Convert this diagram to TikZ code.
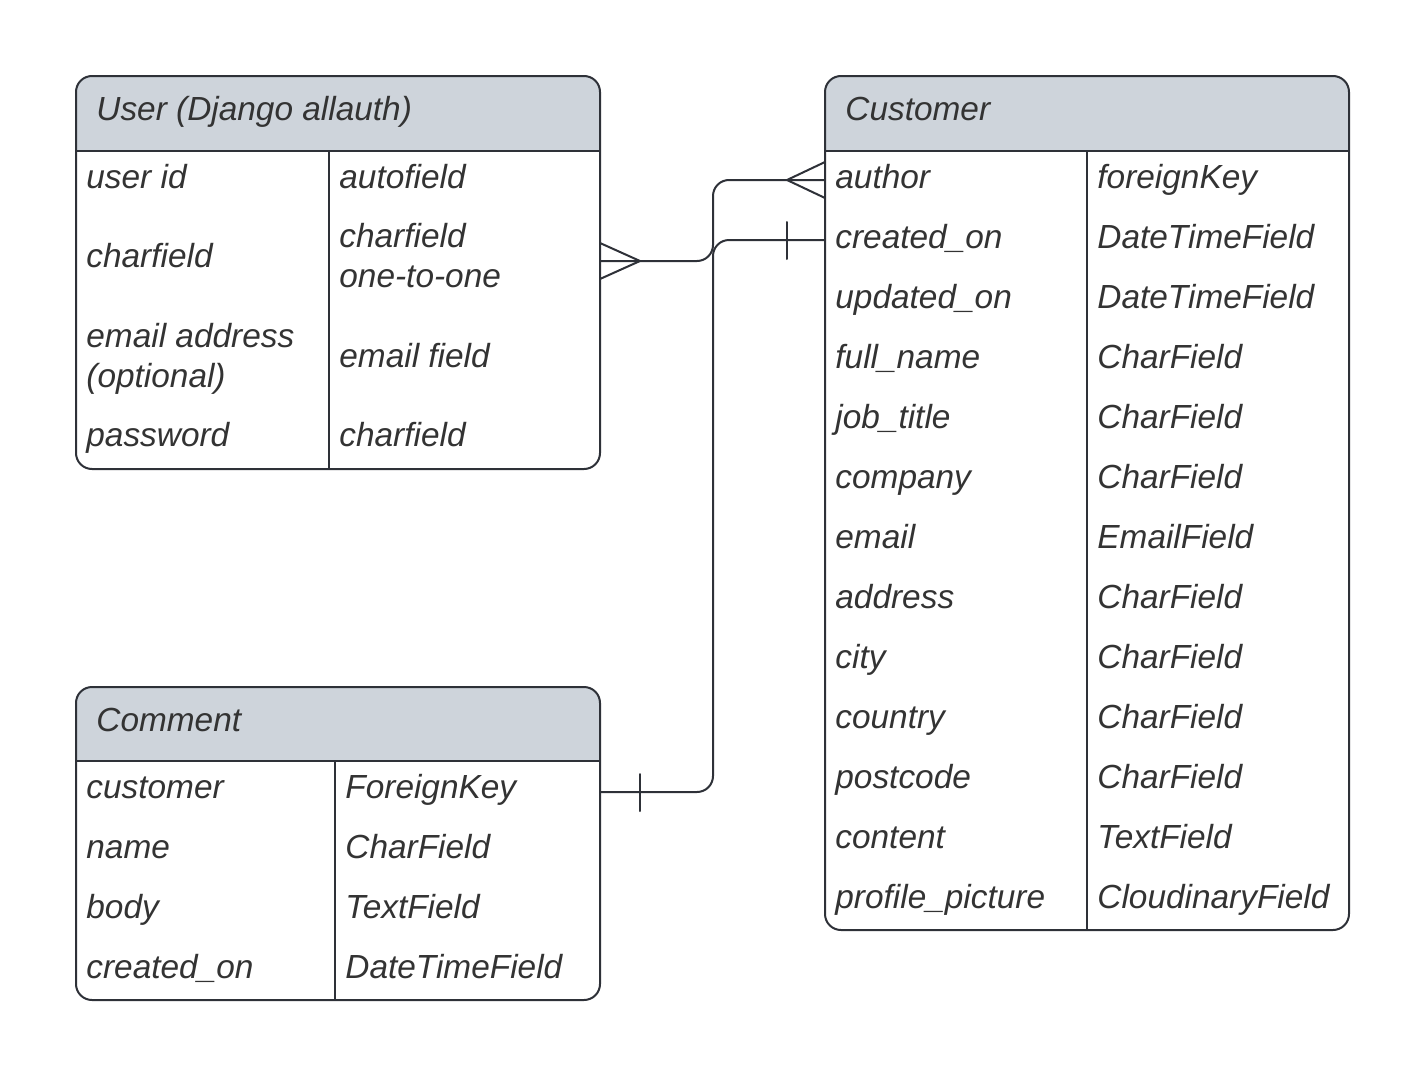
\documentclass[tikz,border=0pt]{standalone}
\usepackage{fontspec}
\setmainfont{Liberation Sans}
\definecolor{hdrfill}{HTML}{CED4DB}
\definecolor{lncol}{HTML}{2E3138}
\definecolor{txtcol}{HTML}{333333}
\tikzset{
  fld/.style={anchor=base west,inner sep=0pt,text=txtcol},
  frame/.style={draw=lncol,line width=1pt,rounded corners=8},
  sep/.style={draw=lncol,line width=0.6pt},
  conn/.style={draw=lncol,line width=1pt,line cap=round,line join=round}
}
\begin{document}
\begin{tikzpicture}[x=0.5pt,y=-0.5pt,font=\fontsize{16.7}{20}\selectfont\itshape]
\useasboundingbox (0,0) rectangle (1425,1076);
% user table
\fill[hdrfill,rounded corners=8] (76,151)--(76,76)--(600,76)[sharp corners]--(600,151)--cycle;
\draw[frame] (76,76) rectangle (600,469);
\draw[frame,rounded corners=0] (76,151)--(600,151);
\draw[sep] (329,151)--(329,469);
\node[fld] (user-title) at (96,120) {User (Django allauth)};
\node[fld] (user-id) at (86,188) {user id};
\node[fld] (user-idtype) at (339,188) {autofield};
\node[fld] (user-name) at (86,267) {charfield};
\node[fld] (user-nametype) at (339,247) {charfield};
\node[fld] (user-nametype2) at (339,287) {one-to-one};
\node[fld] (user-email) at (86,347) {email address};
\node[fld] (user-email2) at (86,387) {(optional)};
\node[fld] (user-emailtype) at (339,367) {email field};
\node[fld] (user-pw) at (86,446) {password};
\node[fld] (user-pwtype) at (339,446) {charfield};
% customer table
\fill[hdrfill,rounded corners=8] (825,151)--(825,76)--(1349,76)[sharp corners]--(1349,151)--cycle;
\draw[frame] (825,76) rectangle (1349,930);
\draw[frame,rounded corners=0] (825,151)--(1349,151);
\draw[sep] (1087,151)--(1087,930);
\node[fld] (cust-title) at (845,120) {Customer};
\foreach \fa/\fb [count=\i from 0] in {author/foreignKey,created\_on/DateTimeField,updated\_on/DateTimeField,
  full\_name/CharField,job\_title/CharField,company/CharField,email/EmailField,address/CharField,
  city/CharField,country/CharField,postcode/CharField,content/TextField,profile\_picture/CloudinaryField}{
  \node[fld] (cust-a\i) at (835,{188+60*\i}) {\fa};
  \node[fld] (cust-b\i) at (1097,{188+60*\i}) {\fb};
}
% comment table
\fill[hdrfill,rounded corners=8] (76,761)--(76,687)--(600,687)[sharp corners]--(600,761)--cycle;
\draw[frame] (76,687) rectangle (600,1000);
\draw[frame,rounded corners=0] (76,761)--(600,761);
\draw[sep] (335,761)--(335,1000);
\node[fld] (com-title) at (96,731) {Comment};
\foreach \fa/\fb [count=\i from 0] in {customer/ForeignKey,name/CharField,body/TextField,created\_on/DateTimeField}{
  \node[fld] (com-a\i) at (86,{798+60*\i}) {\fa};
  \node[fld] (com-b\i) at (345,{798+60*\i}) {\fb};
}
% links
\coordinate (user-link) at (600,261);
\coordinate (author-link) at (825,180);
\coordinate (created-link) at (825,240);
\coordinate (com-link) at (600,792);
\draw[conn,rounded corners=8] (user-link)--++(113,0)|-(author-link);
\draw[conn,rounded corners=8] (created-link)--++(-112,0)|-(com-link);
\draw[conn] (user-link)++(0,-18)--++(40,18)--++(-40,18);
\draw[conn] (author-link)++(0,-18)--++(-38,18)--++(38,18);
\draw[conn] (created-link)++(-38,-18)--++(0,37);
\draw[conn] (com-link)++(40,-18)--++(0,37);
\end{tikzpicture}
\end{document}
